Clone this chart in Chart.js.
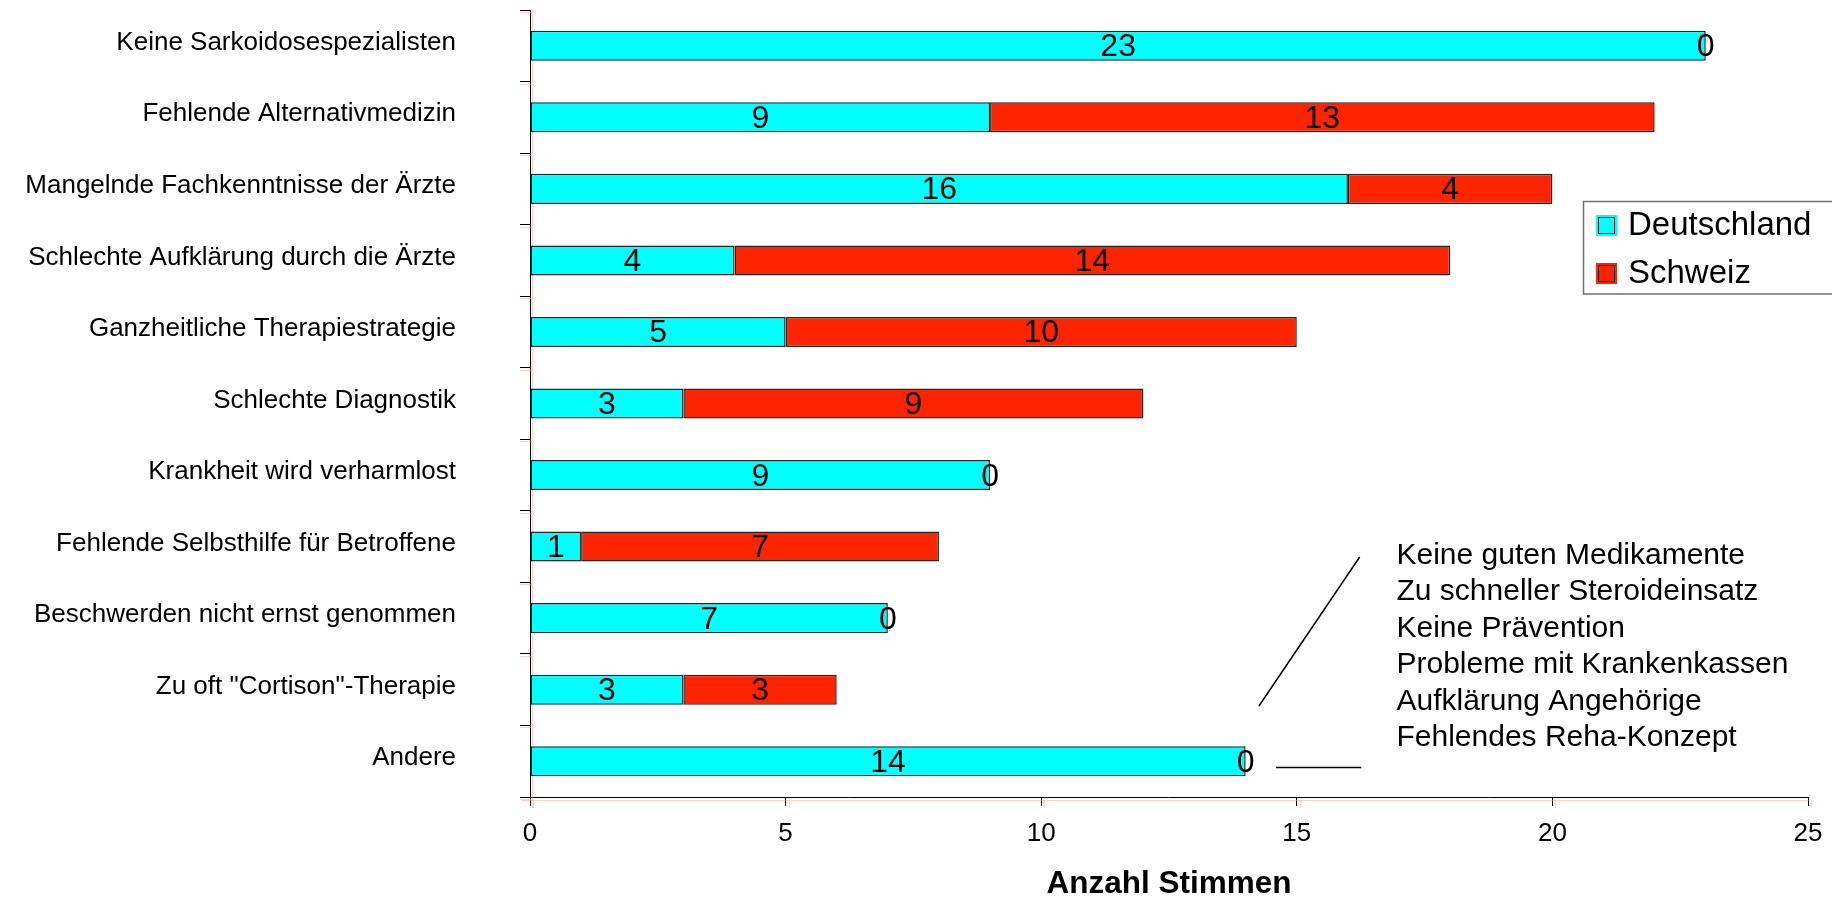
<!DOCTYPE html>
<html>
<head>
<meta charset="utf-8">
<script src="https://cdn.jsdelivr.net/npm/chart.js@4/dist/chart.umd.min.js"></script>
<style>
  html, body { margin: 0; padding: 0; background: #fff; }
  #wrap { width: 1832px; height: 897px; position: relative; }
</style>
</head>
<body>
<div id="wrap"><canvas id="c" width="1832" height="897"></canvas></div>
<script>
// Gründe der Unzufriedenheit, Stimmen je Land
const categories = [
  "Keine Sarkoidosespezialisten",
  "Fehlende Alternativmedizin",
  "Mangelnde Fachkenntnisse der Ärzte",
  "Schlechte Aufklärung durch die Ärzte",
  "Ganzheitliche Therapiestrategie",
  "Schlechte Diagnostik",
  "Krankheit wird verharmlost",
  "Fehlende Selbsthilfe für Betroffene",
  "Beschwerden nicht ernst genommen",
  "Zu oft \"Cortison\"-Therapie",
  "Andere"
];
const seriesNames = ["Deutschland", "Schweiz"];
const deutschland = [23, 9, 16, 4, 5, 3, 9, 1, 7, 3, 14];
const schweiz     = [0, 13, 4, 14, 10, 9, 0, 7, 0, 3, 0];
const xTicks = [0, 5, 10, 15, 20, 25];
const xTitle = "Anzahl Stimmen";
// Aufschlüsselung der Kategorie "Andere"
const otherReasons = [
  "Keine guten Medikamente",
  "Zu schneller Steroideinsatz",
  "Keine Prävention",
  "Probleme mit Krankenkassen",
  "Aufklärung Angehörige",
  "Fehlendes Reha-Konzept"
];

const FONT = "'Liberation Sans', Arial, Helvetica, sans-serif";
Chart.defaults.font.family = FONT;
Chart.defaults.color = '#000';

// Zahlenwerte mittig in jedem Segment
const valueLabels = {
  id: 'valueLabels',
  afterDatasetsDraw(chart) {
    const ctx = chart.ctx;
    ctx.save();
    ctx.font = '32px ' + FONT;
    ctx.fillStyle = '#000';
    ctx.textAlign = 'center';
    ctx.textBaseline = 'alphabetic';
    chart.data.datasets.forEach((ds, di) => {
      const meta = chart.getDatasetMeta(di);
      meta.data.forEach((bar, i) => {
        const cx = (bar.x + bar.base) / 2;
        ctx.fillText(String(ds.data[i]), cx, bar.y + 10.5);
      });
    });
    ctx.restore();
  }
};

// zarte rosa Hilfslinien neben den Achsen
const ghostAxis = {
  id: 'ghostAxis',
  beforeDatasetsDraw(chart) {
    const { ctx, chartArea: a, scales } = chart;
    ctx.save();
    ctx.strokeStyle = 'rgba(255,160,150,0.5)';
    ctx.lineWidth = 1;
    ctx.beginPath();
    ctx.moveTo(a.left + 2.5, a.top);
    ctx.lineTo(a.left + 2.5, a.bottom + 11);
    ctx.moveTo(a.left - 8, a.bottom + 3.5);
    ctx.lineTo(a.right + 2, a.bottom + 3.5);
    const step = (a.bottom - a.top) / categories.length;
    for (let i = 0; i <= categories.length; i++) {
      const py = Math.round(a.top + i * step) + 2.5;
      ctx.moveTo(a.left - 10, py);
      ctx.lineTo(a.left + 2, py);
    }
    scales.x.ticks.forEach(t => {
      const px = Math.round(scales.x.getPixelForValue(t.value)) + 3.5;
      ctx.moveTo(px, a.bottom + 3);
      ctx.lineTo(px, a.bottom + 11);
    });
    ctx.stroke();
    ctx.restore();
  }
};

// Legende im Rahmen rechts
const boxedLegend = {
  id: 'boxedLegend',
  afterDraw(chart) {
    const ctx = chart.ctx;
    ctx.save();
    ctx.fillStyle = '#fff';
    ctx.fillRect(1583, 201, 260, 93);
    ctx.strokeStyle = '#707070';
    ctx.lineWidth = 1.5;
    ctx.strokeRect(1583.5, 201.5, 260, 92.5);
    ctx.font = '33px ' + FONT;
    ctx.textAlign = 'left';
    ctx.textBaseline = 'alphabetic';
    chart.data.datasets.forEach((ds, i) => {
      const sy = 215 + i * 48;
      ctx.fillStyle = ds.backgroundColor;
      ctx.fillRect(1596, sy, 21, 21);
      ctx.strokeStyle = '#1a1a1a';
      ctx.lineWidth = 1;
      ctx.strokeRect(1598.5, sy + 2.5, 16, 16);
      ctx.fillStyle = '#000';
      ctx.fillText(ds.label, 1628, sy + 20);
    });
    ctx.restore();
  }
};

// Erläuterung zu "Andere" mit Hinweislinien
const otherNote = {
  id: 'otherNote',
  afterDraw(chart) {
    const { ctx, scales } = chart;
    const x = scales.x;
    ctx.save();
    ctx.strokeStyle = '#000';
    ctx.lineWidth = 1.5;
    ctx.beginPath();
    ctx.moveTo(x.getPixelForValue(16.23), 557);
    ctx.lineTo(x.getPixelForValue(14.26), 706);
    ctx.moveTo(x.getPixelForValue(14.59), 767.5);
    ctx.lineTo(x.getPixelForValue(16.26), 767.5);
    ctx.stroke();
    ctx.font = '30px ' + FONT;
    ctx.fillStyle = '#000';
    ctx.textAlign = 'left';
    ctx.textBaseline = 'alphabetic';
    const tx = x.getPixelForValue(16.95);
    otherReasons.forEach((t, i) => ctx.fillText(t, tx, 564 + i * 36.4));
    ctx.restore();
  }
};

new Chart(document.getElementById('c'), {
  type: 'bar',
  data: {
    labels: categories,
    datasets: [
      {
        label: seriesNames[0],
        data: deutschland,
        backgroundColor: '#00ffff',
        borderColor: '#262626',
        borderWidth: 1.5,
        borderSkipped: false
      },
      {
        label: seriesNames[1],
        data: schweiz,
        backgroundColor: '#ff2400',
        borderColor: '#262626',
        borderWidth: 1.5,
        borderSkipped: false
      }
    ]
  },
  options: {
    indexAxis: 'y',
    responsive: false,
    animation: false,
    devicePixelRatio: 1,
    barPercentage: 0.42,
    categoryPercentage: 1,
    layout: { padding: { top: 10, right: 24, left: 0, bottom: 0 } },
    plugins: {
      legend: { display: false },
      tooltip: { enabled: false }
    },
    scales: {
      x: {
        stacked: true,
        min: 0,
        max: 25,
        afterBuildTicks: s => { s.ticks = xTicks.map(v => ({ value: v })); },
        afterFit: s => { s.height = 100; s.paddingLeft = 0; s.paddingRight = 0; },
        grid: { drawOnChartArea: false, drawTicks: true, tickLength: 9, color: '#000', lineWidth: 1 },
        border: { display: true, color: '#000', width: 1 },
        ticks: { font: { size: 26 }, padding: 12, color: '#000', maxRotation: 0 },
        title: {
          display: true,
          text: xTitle,
          font: { size: 31.5, weight: 'bold', lineHeight: 0.8 },
          padding: { top: 0, bottom: 0 },
          color: '#000'
        }
      },
      y: {
        stacked: true,
        afterFit: s => { s.width = 530; s.paddingTop = 0; s.paddingBottom = 0; },
        grid: { drawOnChartArea: false, drawTicks: true, tickLength: 10, color: '#000', offset: true },
        border: { display: true, color: '#000', width: 1 },
        ticks: { font: { size: 26 }, padding: 64, labelOffset: -3, color: '#000', autoSkip: false }
      }
    }
  },
  plugins: [ghostAxis, valueLabels, boxedLegend, otherNote]
});
</script>
</body>
</html>
